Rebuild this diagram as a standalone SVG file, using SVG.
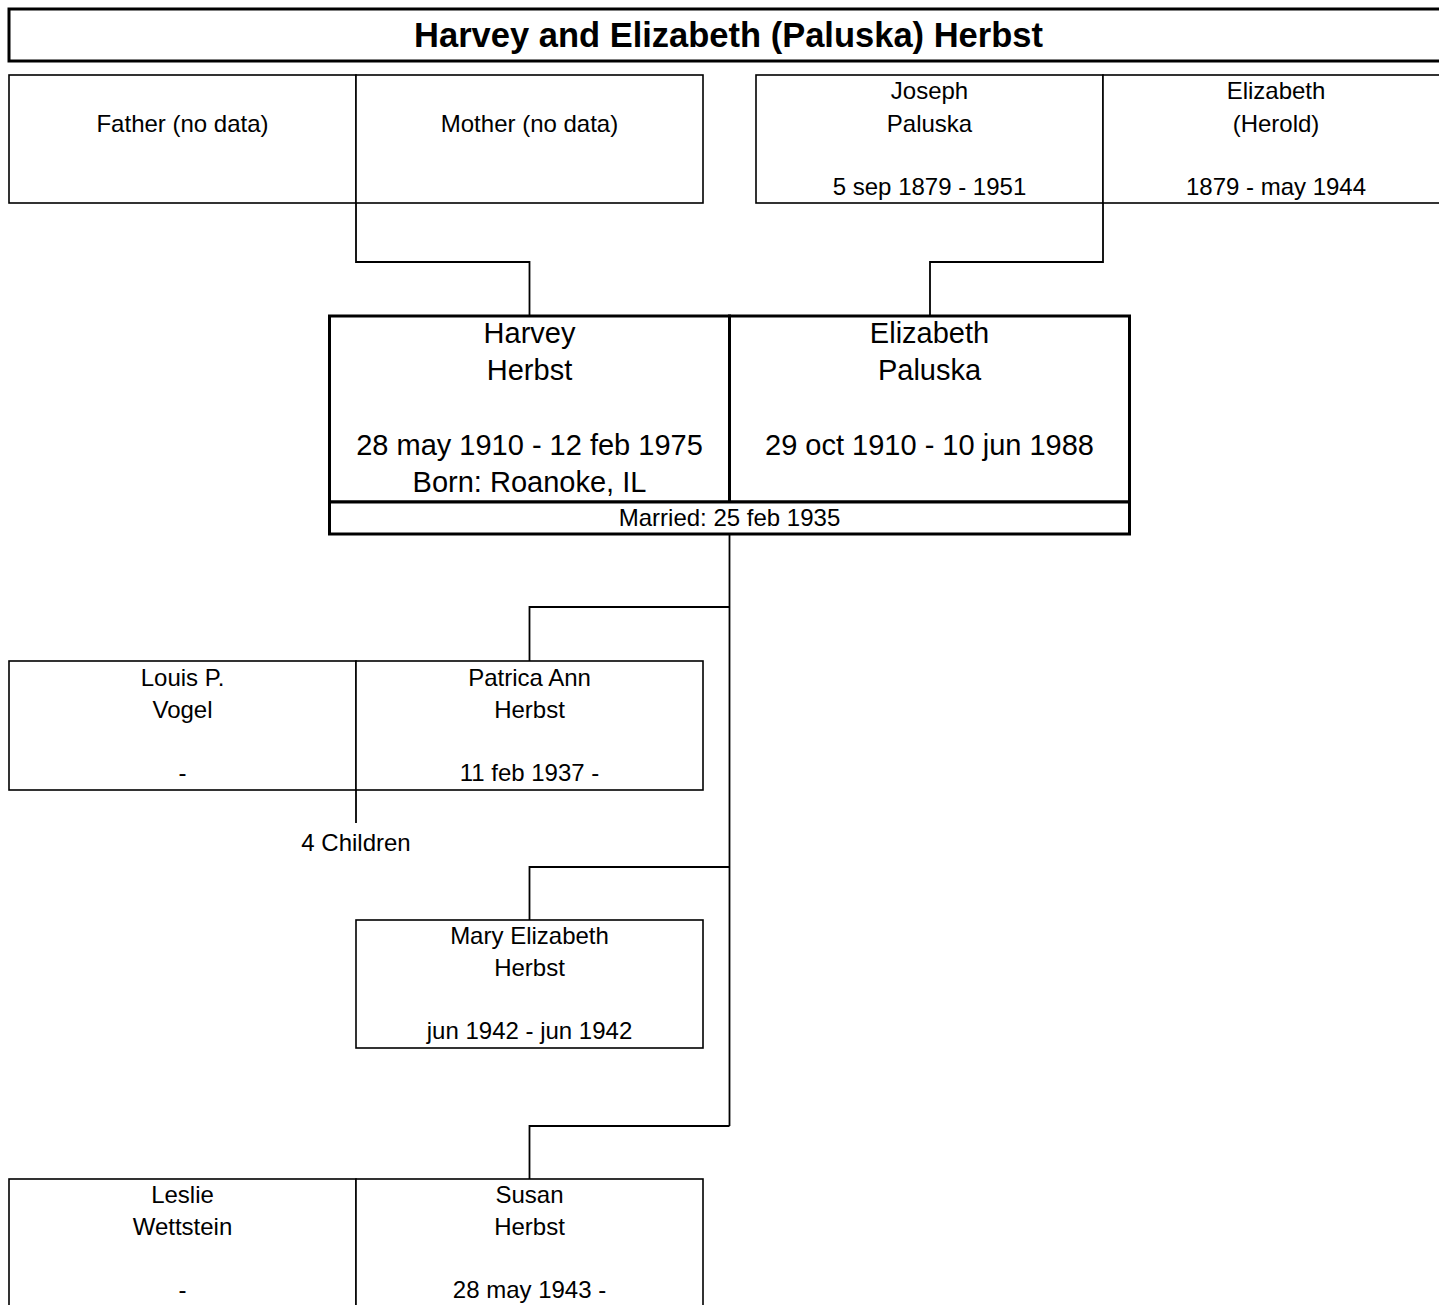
<svg xmlns="http://www.w3.org/2000/svg" width="1439" height="1305" viewBox="0 0 1439 1305">
<style>
  .bg{fill:#fff}
  .box{fill:#fff;stroke:#000;stroke-width:1.6}
  .main{fill:#fff;stroke:#000;stroke-width:3}
  .conn{fill:none;stroke:#000;stroke-width:1.8}
  text{font-family:"Liberation Sans",Arial,sans-serif;fill:#000;text-anchor:middle}
  .t{font-size:24px}
  .m{font-size:29px}
  .title{font-size:34.5px;font-weight:bold}
</style>
<rect class="bg" x="0" y="0" width="1439" height="1305"/>
<g id="connectors">
  <path class="conn" d="M356 203 V262 H529.5 V316"/>
  <path class="conn" d="M1103 203 V262 H930 V316"/>
  <path class="conn" d="M729.5 534 V1126"/>
  <path class="conn" d="M729.5 607 H529.5 V661"/>
  <path class="conn" d="M729.5 867 H529.5 V920"/>
  <path class="conn" d="M729.5 1126 H529.5 V1179"/>
  <path class="conn" d="M356 790 V823"/>
</g>
<g id="title">
  <rect class="main" x="9" y="9" width="1445" height="52"/>
  <text class="title" x="728.5" y="47">Harvey and Elizabeth (Paluska) Herbst</text>
</g>
<g id="father">
  <rect class="box" x="9" y="75" width="347" height="128"/>
  <text class="t" x="182.5" y="132">Father (no data)</text>
</g>
<g id="mother">
  <rect class="box" x="356" y="75" width="347" height="128"/>
  <text class="t" x="529.5" y="132">Mother (no data)</text>
</g>
<g id="joseph">
  <rect class="box" x="756" y="75" width="347" height="128"/>
  <text class="t" x="929.5" y="99">Joseph</text>
  <text class="t" x="929.5" y="132">Paluska</text>
  <text class="t" x="929.5" y="195">5 sep 1879 - 1951</text>
</g>
<g id="elizabeth-herold">
  <rect class="box" x="1103" y="75" width="347" height="128"/>
  <text class="t" x="1276" y="99">Elizabeth</text>
  <text class="t" x="1276" y="132">(Herold)</text>
  <text class="t" x="1276" y="195">1879 - may 1944</text>
</g>
<g id="couple">
  <rect class="main" x="329.5" y="316" width="400" height="186"/>
  <rect class="main" x="729.5" y="316" width="400" height="186"/>
  <rect class="main" x="329.5" y="502" width="800" height="32"/>
  <text class="m" x="529.5" y="343">Harvey</text>
  <text class="m" x="529.5" y="380">Herbst</text>
  <text class="m" x="529.5" y="455">28 may 1910 - 12 feb 1975</text>
  <text class="m" x="529.5" y="492">Born: Roanoke, IL</text>
  <text class="m" x="929.5" y="343">Elizabeth</text>
  <text class="m" x="929.5" y="380">Paluska</text>
  <text class="m" x="929.5" y="455">29 oct 1910 - 10 jun 1988</text>
  <text class="t" x="729.5" y="526">Married: 25 feb 1935</text>
</g>
<g id="louis">
  <rect class="box" x="9" y="661" width="347" height="129"/>
  <text class="t" x="182.5" y="686">Louis P.</text>
  <text class="t" x="182.5" y="718">Vogel</text>
  <text class="t" x="182.5" y="781">-</text>
</g>
<g id="patrica">
  <rect class="box" x="356" y="661" width="347" height="129"/>
  <text class="t" x="529.5" y="686">Patrica Ann</text>
  <text class="t" x="529.5" y="718">Herbst</text>
  <text class="t" x="529.5" y="781">11 feb 1937 -</text>
</g>
<g id="children-label">
  <text class="t" x="356" y="851">4 Children</text>
</g>
<g id="mary">
  <rect class="box" x="356" y="920" width="347" height="128"/>
  <text class="t" x="529.5" y="944">Mary Elizabeth</text>
  <text class="t" x="529.5" y="976">Herbst</text>
  <text class="t" x="529.5" y="1039">jun 1942 - jun 1942</text>
</g>
<g id="leslie">
  <rect class="box" x="9" y="1179" width="347" height="130"/>
  <text class="t" x="182.5" y="1203">Leslie</text>
  <text class="t" x="182.5" y="1235">Wettstein</text>
  <text class="t" x="182.5" y="1298">-</text>
</g>
<g id="susan">
  <rect class="box" x="356" y="1179" width="347" height="130"/>
  <text class="t" x="529.5" y="1203">Susan</text>
  <text class="t" x="529.5" y="1235">Herbst</text>
  <text class="t" x="529.5" y="1298">28 may 1943 -</text>
</g>
</svg>
